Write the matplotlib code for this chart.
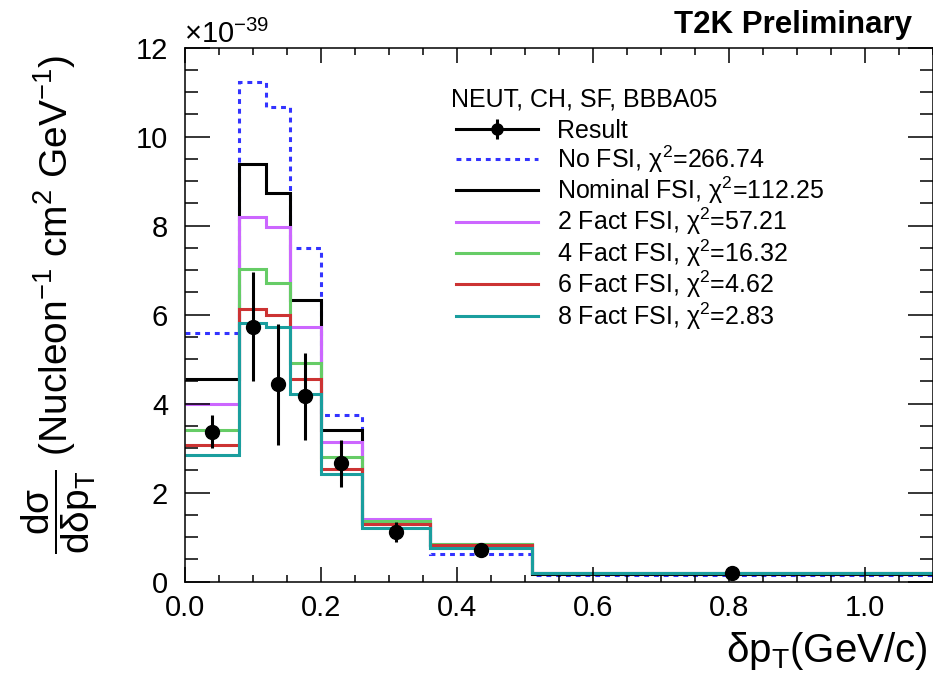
import numpy as np
import matplotlib
matplotlib.use("Agg")
import matplotlib.pyplot as plt
from matplotlib.ticker import MultipleLocator, FuncFormatter
from matplotlib.lines import Line2D

plt.rcParams['font.family'] = ['Liberation Sans', 'DejaVu Sans']
plt.rcParams['mathtext.fontset'] = 'custom'
plt.rcParams['mathtext.rm'] = 'Liberation Sans'
plt.rcParams['mathtext.it'] = 'Liberation Sans:italic'
plt.rcParams['mathtext.bf'] = 'Liberation Sans:bold'

# ---- data (units of 1e-39) ----
bin_edges = [0.0, 0.08, 0.12, 0.155, 0.2, 0.26, 0.36, 0.51, 1.1]
result_x = [0.04, 0.10, 0.1375, 0.1775, 0.23, 0.31, 0.435, 0.805]
result_y = [3.37, 5.73, 4.44, 4.17, 2.66, 1.12, 0.71, 0.19]
result_err = [0.37, 1.23, 1.36, 0.98, 0.53, 0.22, 0.08, 0.03]

no_fsi = [5.58, 11.24, 10.67, 7.51, 3.75, 1.30, 0.62, 0.15]
nominal_fsi = [4.56, 9.38, 8.74, 6.32, 3.41, 1.32, 0.82, 0.18]
fact2_fsi = [3.99, 8.20, 7.96, 5.72, 3.15, 1.42, 0.84, 0.19]
fact4_fsi = [3.41, 7.03, 6.71, 4.91, 2.81, 1.36, 0.84, 0.19]
fact6_fsi = [3.07, 6.13, 5.99, 4.56, 2.53, 1.29, 0.82, 0.19]
fact8_fsi = [2.84, 5.81, 5.73, 4.22, 2.42, 1.21, 0.76, 0.19]

legend_header = "NEUT, CH, SF, BBBA05"
labels = ["No FSI, χ$^{2}$=266.74", "Nominal FSI, χ$^{2}$=112.25",
          "2 Fact FSI, χ$^{2}$=57.21", "4 Fact FSI, χ$^{2}$=16.32",
          "6 Fact FSI, χ$^{2}$=4.62", "8 Fact FSI, χ$^{2}$=2.83"]
colors = ["#3333ff", "#000000", "#cc66ff", "#66cc66", "#cc3333", "#1a9e9e"]
styles = [(0, (1.6, 1.6)), "-", "-", "-", "-", "-"]

fig = plt.figure(figsize=(9.33, 6.8), dpi=100)
ax = fig.add_axes([184.7/933, 1-581.7/680, 1-184.7/933, (581.7-47.7)/680])

series = [no_fsi, nominal_fsi, fact2_fsi, fact4_fsi, fact6_fsi, fact8_fsi]
handles = []
for vals, c, ls, lab in zip(series, colors, styles, labels):
    ax.stairs(vals, bin_edges, baseline=None, color=c, lw=2.2, linestyle=ls)
    handles.append(Line2D([], [], color=c, lw=2.2, linestyle=ls, label=lab))

ax.errorbar(result_x, result_y, yerr=result_err, fmt='o', color='black',
            ms=10, elinewidth=2.2, capsize=0, zorder=10)

res_handle = (Line2D([], [], color='black', lw=2.2),
              Line2D([], [], color='black', lw=0, marker='o', ms=8),
              Line2D([], [], color='black', lw=0, marker='|', ms=14, mew=2.2))

ax.set_xlim(0, 1.1)
ax.set_ylim(0, 12)
ax.xaxis.set_major_locator(MultipleLocator(0.2))
ax.xaxis.set_minor_locator(MultipleLocator(0.05))
ax.yaxis.set_major_locator(MultipleLocator(2))
ax.yaxis.set_minor_locator(MultipleLocator(0.5))
ax.xaxis.set_major_formatter(FuncFormatter(lambda v, p: f"{v:.1f}"))
ax.yaxis.set_major_formatter(FuncFormatter(lambda v, p: f"{v:.0f}"))
ax.tick_params(which='both', direction='in', top=True, right=True, width=1.1, labelsize=21)
ax.tick_params(axis='x', which='major', length=10.8, pad=9)
ax.tick_params(axis='x', which='minor', length=5)
ax.tick_params(axis='y', which='major', length=18, pad=12)
ax.tick_params(axis='y', which='minor', length=9.4)
for s in ax.spines.values():
    s.set_linewidth(1.1)

leg = ax.legend(handles=[res_handle] + handles, labels=["Result"] + labels,
                loc='upper left',
                bbox_to_anchor=(0.349, 0.885), frameon=False, fontsize=18,
                handlelength=3.3, handletextpad=0.75, labelspacing=0.0,
                borderaxespad=0)
fig.text(450.7/933, 1-106.5/680, legend_header, ha='left', va='baseline', fontsize=18)

fig.text(912/933, 1-33/680, "T2K Preliminary", ha='right', va='baseline',
         fontsize=22.5, fontweight='bold')
fig.text(184/933, 1-42.7/680, r"$\times$10$^{\mathregular{-39}}$", ha='left', va='baseline', fontsize=21)
fig.text(928/933, 1-662/680, r"$\mathregular{\delta p_{T}}$(GeV/c)", ha='right', va='baseline', fontsize=29)
fig.text(60/933, 1-304/680,
         r"$\mathregular{\dfrac{d\sigma}{d\delta p_{T}}}$ (Nucleon$^{\mathregular{-1}}$ cm$^{\mathregular{2}}$ GeV$^{\mathregular{-1}}$)",
         rotation=90, ha='center', va='center', fontsize=28)

fig.savefig("out.png", dpi=100)
